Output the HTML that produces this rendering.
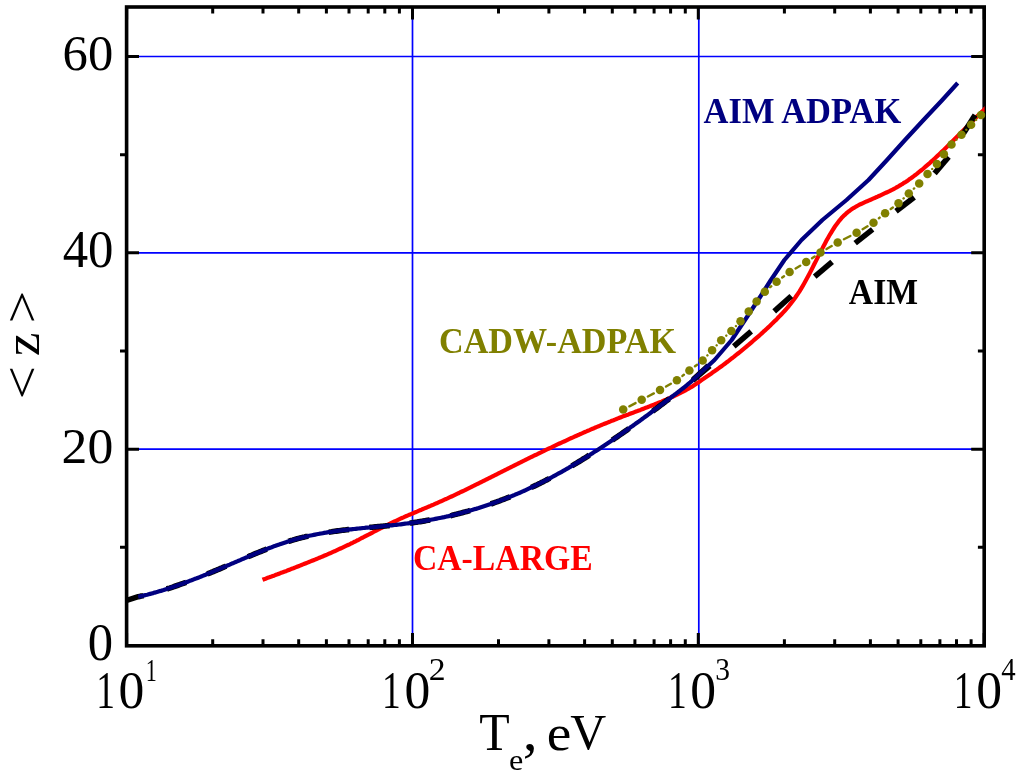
<!DOCTYPE html><html><head><meta charset="utf-8"><style>html,body{margin:0;padding:0;background:#fff;}svg{display:block;will-change:transform}</style></head><body>
<svg width="1024" height="781" viewBox="0 0 1024 781">
<rect width="1024" height="781" fill="#fff"/>
<path d="M412.5 7.0V645.5M698.8 7.0V645.5M126.6 449.2H984.2M126.6 252.8H984.2M126.6 56.5H984.2" stroke="#0000ff" stroke-width="1.7" fill="none"/>
<path d="M212.7 645.5V639.2M212.7 7.0V13.5M263.0 645.5V639.2M263.0 7.0V13.5M298.7 645.5V639.2M298.7 7.0V13.5M326.4 645.5V639.2M326.4 7.0V13.5M349.0 645.5V639.2M349.0 7.0V13.5M368.2 645.5V639.2M368.2 7.0V13.5M384.8 645.5V639.2M384.8 7.0V13.5M399.4 645.5V639.2M399.4 7.0V13.5M498.5 645.5V639.2M498.5 7.0V13.5M548.9 645.5V639.2M548.9 7.0V13.5M584.6 645.5V639.2M584.6 7.0V13.5M612.3 645.5V639.2M612.3 7.0V13.5M634.9 645.5V639.2M634.9 7.0V13.5M654.1 645.5V639.2M654.1 7.0V13.5M670.6 645.5V639.2M670.6 7.0V13.5M685.3 645.5V639.2M685.3 7.0V13.5M784.4 645.5V639.2M784.4 7.0V13.5M834.7 645.5V639.2M834.7 7.0V13.5M870.4 645.5V639.2M870.4 7.0V13.5M898.1 645.5V639.2M898.1 7.0V13.5M920.8 645.5V639.2M920.8 7.0V13.5M939.9 645.5V639.2M939.9 7.0V13.5M956.5 645.5V639.2M956.5 7.0V13.5M971.1 645.5V639.2M971.1 7.0V13.5M126.6 645.5V633.0M126.6 7.0V19.5M412.5 645.5V633.0M412.5 7.0V19.5M698.3 645.5V633.0M698.3 7.0V19.5M984.2 645.5V633.0M984.2 7.0V19.5M126.6 645.5H139.0M984.2 645.5H971.2M126.6 449.2H139.0M984.2 449.2H971.2M126.6 252.8H139.0M984.2 252.8H971.2M126.6 56.5H139.0M984.2 56.5H971.2M126.6 547.3H120.0M984.2 547.3H977.9M126.6 351.0H120.0M984.2 351.0H977.9M126.6 154.7H120.0M984.2 154.7H977.9" stroke="#000" stroke-width="3" fill="none"/>
<rect x="126.60" y="7.00" width="857.60" height="638.80" fill="none" stroke="#000" stroke-width="3.6"/>
<defs><clipPath id="pc"><rect x="126.60" y="7.00" width="858.00" height="638.50"/></clipPath></defs>
<g clip-path="url(#pc)">
<polyline points="262.5,579.8 264.0,579.2 265.5,578.7 267.0,578.1 268.5,577.6 270.0,577.0 271.5,576.5 273.0,575.9 274.5,575.4 276.0,574.8 277.5,574.3 279.0,573.7 280.5,573.1 282.0,572.6 283.5,572.0 285.0,571.4 286.5,570.9 288.0,570.3 289.5,569.7 291.0,569.1 292.5,568.6 294.0,568.0 295.5,567.4 297.0,566.8 298.5,566.2 300.0,565.6 301.5,565.0 303.0,564.4 304.5,563.8 306.0,563.2 307.5,562.6 309.0,562.0 310.5,561.4 312.0,560.8 313.5,560.2 315.0,559.6 316.5,559.0 318.0,558.4 319.5,557.7 321.0,557.1 322.5,556.5 324.0,555.8 325.5,555.2 327.0,554.6 328.5,553.9 330.0,553.3 331.5,552.6 333.0,551.9 334.5,551.3 336.0,550.6 337.5,549.9 339.0,549.2 340.5,548.5 342.0,547.8 343.5,547.1 345.0,546.4 346.5,545.7 348.0,545.0 349.5,544.3 351.0,543.5 352.5,542.8 354.0,542.0 355.5,541.3 357.0,540.5 358.5,539.8 360.0,539.0 361.5,538.2 363.0,537.5 364.5,536.7 366.0,535.9 367.5,535.1 369.0,534.4 370.5,533.6 372.0,532.8 373.5,532.0 375.0,531.2 376.5,530.5 378.0,529.7 379.5,528.9 381.0,528.2 382.5,527.4 384.0,526.6 385.5,525.9 387.0,525.1 388.5,524.4 390.0,523.7 391.5,522.9 393.0,522.2 394.5,521.5 396.0,520.8 397.5,520.1 399.0,519.4 400.5,518.7 402.0,518.0 403.5,517.4 405.0,516.7 406.5,516.0 408.0,515.4 409.5,514.7 411.0,514.1 412.5,513.5 414.0,512.8 415.5,512.2 417.0,511.6 418.5,510.9 420.0,510.3 421.5,509.7 423.0,509.0 424.5,508.4 426.0,507.8 427.5,507.1 429.0,506.5 430.5,505.9 432.0,505.2 433.5,504.6 435.0,503.9 436.5,503.3 438.0,502.6 439.5,501.9 441.0,501.3 442.5,500.6 444.0,499.9 445.5,499.2 447.0,498.6 448.5,497.9 450.0,497.2 451.5,496.5 453.0,495.8 454.5,495.1 456.0,494.4 457.5,493.7 459.0,493.0 460.5,492.2 462.0,491.5 463.5,490.8 465.0,490.1 466.5,489.3 468.0,488.6 469.5,487.9 471.0,487.2 472.5,486.4 474.0,485.7 475.5,484.9 477.0,484.2 478.5,483.5 480.0,482.7 481.5,482.0 483.0,481.2 484.5,480.5 486.0,479.7 487.5,479.0 489.0,478.2 490.5,477.5 492.0,476.7 493.5,476.0 495.0,475.2 496.5,474.5 498.0,473.7 499.5,472.9 501.0,472.2 502.5,471.4 504.0,470.7 505.5,469.9 507.0,469.2 508.5,468.4 510.0,467.7 511.5,466.9 513.0,466.2 514.5,465.4 516.0,464.6 517.5,463.9 519.0,463.1 520.5,462.4 522.0,461.6 523.5,460.9 525.0,460.2 526.5,459.4 528.0,458.7 529.5,457.9 531.0,457.2 532.5,456.5 534.0,455.7 535.5,455.0 537.0,454.3 538.5,453.5 540.0,452.8 541.5,452.1 543.0,451.4 544.5,450.6 546.0,449.9 547.5,449.2 549.0,448.5 550.5,447.8 552.0,447.1 553.5,446.3 555.0,445.6 556.5,444.9 558.0,444.2 559.5,443.5 561.0,442.8 562.5,442.1 564.0,441.5 565.5,440.8 567.0,440.1 568.5,439.4 570.0,438.7 571.5,438.0 573.0,437.4 574.5,436.7 576.0,436.0 577.5,435.3 579.0,434.7 580.5,434.0 582.0,433.4 583.5,432.7 585.0,432.0 586.5,431.4 588.0,430.7 589.5,430.1 591.0,429.4 592.5,428.8 594.0,428.2 595.5,427.5 597.0,426.9 598.5,426.3 600.0,425.6 601.5,425.0 603.0,424.4 604.5,423.8 606.0,423.2 607.5,422.6 609.0,422.0 610.5,421.4 612.0,420.7 613.5,420.2 615.0,419.6 616.5,419.0 618.0,418.4 619.5,417.8 621.0,417.2 622.5,416.6 624.0,416.1 625.5,415.5 627.0,414.9 628.5,414.4 630.0,413.8 631.5,413.2 633.0,412.7 634.5,412.1 636.0,411.5 637.5,411.0 639.0,410.4 640.5,409.9 642.0,409.3 643.5,408.7 645.0,408.1 646.5,407.6 648.0,407.0 649.5,406.4 651.0,405.8 652.5,405.2 654.0,404.6 655.5,404.0 657.0,403.4 658.5,402.8 660.0,402.2 661.5,401.6 663.0,400.9 664.5,400.3 666.0,399.7 667.5,399.0 669.0,398.3 670.5,397.7 672.0,397.0 673.5,396.3 675.0,395.6 676.5,394.9 678.0,394.1 679.5,393.4 681.0,392.6 682.5,391.9 684.0,391.1 685.5,390.3 687.0,389.5 688.5,388.7 690.0,387.8 691.5,386.9 693.0,385.9 694.5,384.9 696.0,384.0 697.5,382.9 699.0,381.9 700.5,380.9 702.0,379.8 703.5,378.8 705.0,377.7 706.5,376.7 708.0,375.7 709.5,374.7 711.0,373.7 712.5,372.6 714.0,371.6 715.5,370.5 717.0,369.5 718.5,368.4 720.0,367.3 721.5,366.2 723.0,365.1 724.5,364.0 726.0,362.8 727.5,361.7 729.0,360.6 730.5,359.4 732.0,358.2 733.5,357.1 735.0,355.9 736.5,354.7 738.0,353.5 739.5,352.3 741.0,351.1 742.5,349.8 744.0,348.6 745.5,347.4 747.0,346.1 748.5,344.9 750.0,343.6 751.5,342.3 753.0,341.0 754.5,339.7 756.0,338.4 757.5,337.1 759.0,335.8 760.5,334.5 762.0,333.1 763.5,331.7 765.0,330.4 766.5,329.0 768.0,327.6 769.5,326.2 771.0,324.7 772.5,323.3 774.0,321.8 775.5,320.4 777.0,318.9 778.5,317.3 780.0,315.8 781.5,314.2 783.0,312.6 784.5,311.0 786.0,309.3 787.5,307.6 789.0,305.8 790.5,303.9 792.0,302.0 793.5,300.0 795.0,298.0 796.5,295.8 798.0,293.6 799.5,291.3 801.0,288.8 802.5,286.3 804.0,283.7 805.5,281.0 807.0,278.3 808.5,275.5 810.0,272.6 811.5,269.7 813.0,266.8 814.5,263.8 816.0,260.9 817.5,257.9 819.0,254.9 820.5,252.0 822.0,249.1 823.5,246.2 825.0,243.4 826.5,240.6 828.0,237.9 829.5,235.3 831.0,232.8 832.5,230.3 834.0,228.0 835.5,225.7 837.0,223.7 838.5,221.7 840.0,219.9 841.5,218.1 843.0,216.6 844.5,215.1 846.0,213.7 847.5,212.4 849.0,211.2 850.5,210.1 852.0,209.1 853.5,208.1 855.0,207.2 856.5,206.3 858.0,205.5 859.5,204.7 861.0,204.0 862.5,203.3 864.0,202.6 865.5,201.9 867.0,201.3 868.5,200.6 870.0,200.0 871.5,199.3 873.0,198.6 874.5,198.0 876.0,197.3 877.5,196.7 879.0,196.0 880.5,195.3 882.0,194.6 883.5,193.9 885.0,193.2 886.5,192.5 888.0,191.8 889.5,191.1 891.0,190.3 892.5,189.6 894.0,188.8 895.5,188.0 897.0,187.1 898.5,186.3 900.0,185.4 901.5,184.5 903.0,183.6 904.5,182.6 906.0,181.7 907.5,180.7 909.0,179.6 910.5,178.6 912.0,177.5 913.5,176.4 915.0,175.2 916.5,174.1 918.0,172.9 919.5,171.7 921.0,170.5 922.5,169.3 924.0,168.0 925.5,166.7 927.0,165.4 928.5,164.1 930.0,162.8 931.5,161.4 933.0,160.1 934.5,158.7 936.0,157.3 937.5,155.9 939.0,154.5 940.5,153.1 942.0,151.6 943.5,150.2 945.0,148.7 946.5,147.3 948.0,145.8 949.5,144.3 951.0,142.8 952.5,141.3 954.0,139.8 955.5,138.3 957.0,136.8 958.5,135.3 960.0,133.8 961.5,132.3 963.0,130.7 964.5,129.2 966.0,127.7 967.5,126.2 969.0,124.7 970.5,123.2 972.0,121.6 973.5,120.1 975.0,118.6 976.5,117.1 978.0,115.6 979.5,114.2 981.0,112.7 982.5,111.2 984.0,109.8 985.5,108.3 987.0,106.9 987.5,106.4" fill="none" stroke="#ff0000" stroke-width="4.2" stroke-linejoin="round"/>
<polyline points="126.6,600.4 138.2,596.7 139.7,596.4 141.2,596.1 142.7,595.8 143.4,595.6" fill="none" stroke="#000" stroke-width="5.6" stroke-linejoin="round"/>
<polyline points="166.8,589.0 168.2,588.5 169.7,588.1 171.2,587.6 172.7,587.1 174.2,586.5 175.7,586.0 177.2,585.5 178.7,585.0 180.2,584.4 181.7,583.9 183.2,583.4 184.7,582.8 186.2,582.3" fill="none" stroke="#000" stroke-width="5.6" stroke-linejoin="round"/>
<polyline points="207.3,574.0 208.7,573.4 210.2,572.8 211.7,572.2 213.2,571.6 214.7,570.9 216.2,570.3 217.7,569.7 219.2,569.1 220.7,568.4 222.2,567.8 223.7,567.1 225.2,566.5 226.2,566.1" fill="none" stroke="#000" stroke-width="5.6" stroke-linejoin="round"/>
<polyline points="247.8,556.8 249.2,556.2 250.7,555.6 252.2,555.0 253.7,554.3 255.2,553.7 256.7,553.1 258.2,552.5 259.7,551.9 261.2,551.3 262.7,550.7 264.2,550.1 265.7,549.5 266.8,549.1" fill="none" stroke="#000" stroke-width="5.6" stroke-linejoin="round"/>
<polyline points="288.3,541.4 289.7,541.0 291.2,540.5 292.7,540.1 294.2,539.6 295.7,539.2 297.2,538.8 298.7,538.4 300.2,538.0 301.7,537.6 303.2,537.2 304.7,536.9 306.2,536.5 307.7,536.2 308.1,536.1" fill="none" stroke="#000" stroke-width="5.6" stroke-linejoin="round"/>
<polyline points="328.8,532.2 330.2,532.0 331.7,531.8 333.2,531.5 334.7,531.3 336.2,531.1 337.7,530.9 339.2,530.7 340.7,530.5 342.2,530.3 343.7,530.1 345.2,530.0 346.7,529.8 348.2,529.6 349.1,529.5" fill="none" stroke="#000" stroke-width="5.6" stroke-linejoin="round"/>
<polyline points="369.3,527.5 370.7,527.3 372.2,527.2 373.7,527.0 375.2,526.9 376.7,526.8 378.2,526.6 379.7,526.5 381.2,526.3 382.7,526.2 384.2,526.0 385.7,525.9 387.2,525.7 388.7,525.6 389.7,525.5" fill="none" stroke="#000" stroke-width="5.6" stroke-linejoin="round"/>
<polyline points="409.8,523.1 411.2,522.9 412.7,522.7 414.2,522.5 415.7,522.3 417.2,522.1 418.7,521.8 420.2,521.6 421.7,521.4 423.2,521.1 424.7,520.9 426.2,520.6 427.7,520.3 429.2,520.1 430.0,519.9" fill="none" stroke="#000" stroke-width="5.6" stroke-linejoin="round"/>
<polyline points="450.3,515.7 451.7,515.4 453.2,515.0 454.7,514.6 456.2,514.3 457.7,513.9 459.2,513.5 460.7,513.1 462.2,512.7 463.7,512.3 465.2,511.9 466.7,511.5 468.2,511.1 469.7,510.6 470.1,510.5" fill="none" stroke="#000" stroke-width="5.6" stroke-linejoin="round"/>
<polyline points="490.8,504.0 492.2,503.5 493.7,503.0 495.2,502.4 496.7,501.9 498.2,501.3 499.7,500.8 501.2,500.2 502.7,499.7 504.2,499.1 505.7,498.5 507.2,497.9 508.7,497.3 510.0,496.8" fill="none" stroke="#000" stroke-width="5.6" stroke-linejoin="round"/>
<polyline points="531.3,487.5 532.7,486.8 534.2,486.1 535.7,485.4 537.2,484.7 538.7,483.9 540.2,483.2 541.7,482.4 543.2,481.7 544.7,480.9 546.2,480.1 547.7,479.4 549.2,478.6 549.6,478.3" fill="none" stroke="#000" stroke-width="5.6" stroke-linejoin="round"/>
<polyline points="571.8,465.9 573.2,465.1 574.7,464.2 576.2,463.3 577.7,462.4 579.2,461.5 580.7,460.6 582.2,459.7 583.7,458.7 585.2,457.8 586.7,456.9 588.2,455.9 589.3,455.2" fill="none" stroke="#000" stroke-width="5.6" stroke-linejoin="round"/>
<polyline points="612.3,440.1 613.7,439.2 615.2,438.1 616.7,437.1 618.2,436.1 619.7,435.0 621.2,434.0 622.7,432.9 624.2,431.9 625.7,430.8 627.2,429.8 628.7,428.7 629.1,428.4" fill="none" stroke="#000" stroke-width="5.6" stroke-linejoin="round"/>
<polyline points="652.8,411.2 654.2,410.1 655.7,409.0 657.2,407.9 658.7,406.8 660.2,405.6 661.7,404.5 663.2,403.4 664.7,402.2 666.2,401.1 667.7,400.0 669.2,398.8" fill="none" stroke="#000" stroke-width="5.6" stroke-linejoin="round"/>
<polyline points="693.3,379.5 708.4,365.6" fill="none" stroke="#000" stroke-width="5.6" stroke-linejoin="round"/>
<polyline points="692.6,380.3 709.8,365.9" fill="none" stroke="#000" stroke-width="5.6" stroke-linejoin="round"/>
<polyline points="733.8,346.3 751.2,331.4" fill="none" stroke="#000" stroke-width="5.6" stroke-linejoin="round"/>
<polyline points="774.2,311.3 791.3,296.0" fill="none" stroke="#000" stroke-width="5.6" stroke-linejoin="round"/>
<polyline points="814.7,276.6 832.1,261.8" fill="none" stroke="#000" stroke-width="5.6" stroke-linejoin="round"/>
<polyline points="855.2,243.1 872.6,229.4" fill="none" stroke="#000" stroke-width="5.6" stroke-linejoin="round"/>
<polyline points="896.0,211.2 914.2,197.2" fill="none" stroke="#000" stroke-width="5.6" stroke-linejoin="round"/>
<polyline points="934.6,173.4 948.6,156.9" fill="none" stroke="#000" stroke-width="5.6" stroke-linejoin="round"/>
<polyline points="963.4,133.4 975.1,114.9" fill="none" stroke="#000" stroke-width="5.6" stroke-linejoin="round"/>
<polyline points="138.2,596.7 139.7,596.4 141.2,596.1 142.7,595.8 144.2,595.4 145.7,595.0 147.2,594.7 148.7,594.3 150.2,593.9 151.7,593.5 153.2,593.1 154.7,592.6 156.2,592.2 157.7,591.8 159.2,591.3 160.7,590.9 162.2,590.4 163.7,590.0 165.2,589.5 166.7,589.0 168.2,588.5 169.7,588.1 171.2,587.6 172.7,587.1 174.2,586.5 175.7,586.0 177.2,585.5 178.7,585.0 180.2,584.4 181.7,583.9 183.2,583.4 184.7,582.8 186.2,582.3 187.7,581.7 189.2,581.1 190.7,580.6 192.2,580.0 193.7,579.4 195.2,578.8 196.7,578.3 198.2,577.7 199.7,577.1 201.2,576.5 202.7,575.9 204.2,575.3 205.7,574.7 207.2,574.0 208.7,573.4 210.2,572.8 211.7,572.2 213.2,571.6 214.7,570.9 216.2,570.3 217.7,569.7 219.2,569.1 220.7,568.4 222.2,567.8 223.7,567.1 225.2,566.5 226.7,565.9 228.2,565.2 229.7,564.6 231.2,563.9 232.7,563.3 234.2,562.6 235.7,562.0 237.2,561.4 238.7,560.7 240.2,560.1 241.7,559.4 243.2,558.8 244.7,558.1 246.2,557.5 247.7,556.9 249.2,556.2 250.7,555.6 252.2,555.0 253.7,554.3 255.2,553.7 256.7,553.1 258.2,552.5 259.7,551.9 261.2,551.3 262.7,550.7 264.2,550.1 265.7,549.5 267.2,548.9 268.7,548.3 270.2,547.7 271.7,547.2 273.2,546.6 274.7,546.1 276.2,545.5 277.7,545.0 279.2,544.5 280.7,543.9 282.2,543.4 283.7,542.9 285.2,542.4 286.7,541.9 288.2,541.5 289.7,541.0 291.2,540.5 292.7,540.1 294.2,539.6 295.7,539.2 297.2,538.8 298.7,538.4 300.2,538.0 301.7,537.6 303.2,537.2 304.7,536.9 306.2,536.5 307.7,536.2 309.2,535.8 310.7,535.5 312.2,535.2 313.7,534.9 315.2,534.6 316.7,534.3 318.2,534.0 319.7,533.7 321.2,533.5 322.7,533.2 324.2,532.9 325.7,532.7 327.2,532.4 328.7,532.2 330.2,532.0 331.7,531.8 333.2,531.5 334.7,531.3 336.2,531.1 337.7,530.9 339.2,530.7 340.7,530.5 342.2,530.3 343.7,530.1 345.2,530.0 346.7,529.8 348.2,529.6 349.7,529.4 351.2,529.3 352.7,529.1 354.2,529.0 355.7,528.8 357.2,528.6 358.7,528.5 360.2,528.3 361.7,528.2 363.2,528.0 364.7,527.9 366.2,527.7 367.7,527.6 369.2,527.5 370.7,527.3 372.2,527.2 373.7,527.0 375.2,526.9 376.7,526.8 378.2,526.6 379.7,526.5 381.2,526.3 382.7,526.2 384.2,526.0 385.7,525.9 387.2,525.7 388.7,525.6 390.2,525.4 391.7,525.3 393.2,525.1 394.7,525.0 396.2,524.8 397.7,524.6 399.2,524.5 400.7,524.3 402.2,524.1 403.7,523.9 405.2,523.7 406.7,523.5 408.2,523.3 409.7,523.1 411.2,522.9 412.7,522.7 414.2,522.5 415.7,522.3 417.2,522.1 418.7,521.8 420.2,521.6 421.7,521.4 423.2,521.1 424.7,520.9 426.2,520.6 427.7,520.3 429.2,520.1 430.7,519.8 432.2,519.5 433.7,519.2 435.2,518.9 436.7,518.6 438.2,518.3 439.7,518.0 441.2,517.7 442.7,517.4 444.2,517.1 445.7,516.7 447.2,516.4 448.7,516.1 450.2,515.7 451.7,515.4 453.2,515.0 454.7,514.6 456.2,514.3 457.7,513.9 459.2,513.5 460.7,513.1 462.2,512.7 463.7,512.3 465.2,511.9 466.7,511.5 468.2,511.1 469.7,510.6 471.2,510.2 472.7,509.8 474.2,509.3 475.7,508.9 477.2,508.4 478.7,508.0 480.2,507.5 481.7,507.0 483.2,506.5 484.7,506.0 486.2,505.5 487.7,505.0 489.2,504.5 490.7,504.0 492.2,503.5 493.7,503.0 495.2,502.4 496.7,501.9 498.2,501.3 499.7,500.8 501.2,500.2 502.7,499.7 504.2,499.1 505.7,498.5 507.2,497.9 508.7,497.3 510.2,496.7 511.7,496.1 513.2,495.5 514.7,494.9 516.2,494.2 517.7,493.6 519.2,493.0 520.7,492.3 522.2,491.6 523.7,491.0 525.2,490.3 526.7,489.6 528.2,488.9 529.7,488.2 531.2,487.5 532.7,486.8 534.2,486.1 535.7,485.4 537.2,484.7 538.7,483.9 540.2,483.2 541.7,482.4 543.2,481.7 544.7,480.9 546.2,480.1 547.7,479.4 549.2,478.6 550.7,477.8 552.2,477.0 553.7,476.2 555.2,475.4 556.7,474.5 558.2,473.7 559.7,472.9 561.2,472.1 562.7,471.2 564.2,470.4 565.7,469.5 567.2,468.6 568.7,467.8 570.2,466.9 571.7,466.0 573.2,465.1 574.7,464.2 576.2,463.3 577.7,462.4 579.2,461.5 580.7,460.6 582.2,459.7 583.7,458.7 585.2,457.8 586.7,456.9 588.2,455.9 589.7,455.0 591.2,454.0 592.7,453.1 594.2,452.1 595.7,451.1 597.2,450.2 598.7,449.2 600.2,448.2 601.7,447.2 603.2,446.2 604.7,445.2 606.2,444.2 607.7,443.2 609.2,442.2 610.7,441.2 612.2,440.2 613.7,439.2 615.2,438.1 616.7,437.1 618.2,436.1 619.7,435.0 621.2,434.0 622.7,432.9 624.2,431.9 625.7,430.8 627.2,429.8 628.7,428.7 630.2,427.6 631.7,426.6 633.2,425.5 634.7,424.4 636.2,423.3 637.7,422.2 639.2,421.2 640.7,420.1 642.2,419.0 643.7,417.9 645.2,416.8 646.7,415.7 648.2,414.6 649.7,413.5 651.2,412.3 652.7,411.2 654.2,410.1 655.7,409.0 657.2,407.9 658.7,406.8 660.2,405.6 661.7,404.5 663.2,403.4 664.7,402.2 666.2,401.1 667.7,400.0 669.2,398.8 670.7,397.7 672.2,396.5 673.7,395.4 675.2,394.3 676.7,393.1 678.2,392.0 679.7,390.8 681.2,389.6 682.7,388.5 684.2,387.3 685.7,386.1 687.2,384.9 688.7,383.6 690.2,382.4 691.7,381.1 692.5,380.3 714.5,360.0 731.7,340.0 745.0,320.0 760.4,296.5 770.9,280.0 784.4,260.0 801.5,240.0 822.4,220.0 846.5,200.0 868.5,180.0 887.0,160.0 905.0,140.0 923.5,120.0 942.3,100.0 957.7,83.0" fill="none" stroke="#000080" stroke-width="4.2" stroke-linejoin="round"/>
</g>
<path d="M629.39 406.32L635.51 403.08M647.88 396.52L653.82 393.38M666.04 386.56L670.86 383.74M682.43 375.91L683.87 374.79M694.99 366.29L697.11 364.71M707.39 355.41L707.41 355.39M716.64 345.31L716.66 345.29M726.29 335.61L726.31 335.59M735.94 326.06L735.96 326.04M770.14 287.17L771.26 286.23M782.21 277.51L783.99 276.19M795.61 268.41L800.19 265.69M812.03 258.23L814.67 256.47M826.54 249.06L831.66 246.04M843.93 239.30L850.37 236.00M862.61 229.21L867.49 226.29M878.92 218.26L879.68 217.64M890.73 209.04L892.87 207.46M903.57 198.47L903.73 198.33M913.87 188.67L914.13 188.43M932.19 169.01L932.21 168.99M956.49 139.66L956.51 139.64M966.29 129.76L966.31 129.74M976.04 119.91L976.06 119.89" stroke="#808000" stroke-width="2.4" stroke-linecap="round" fill="none"/>
<circle cx="623.2" cy="409.6" r="4.25" fill="#808000"/>
<circle cx="641.7" cy="399.8" r="4.25" fill="#808000"/>
<circle cx="660.0" cy="390.1" r="4.25" fill="#808000"/>
<circle cx="676.9" cy="380.2" r="4.25" fill="#808000"/>
<circle cx="689.4" cy="370.5" r="4.25" fill="#808000"/>
<circle cx="702.7" cy="360.5" r="4.25" fill="#808000"/>
<circle cx="712.1" cy="350.3" r="4.25" fill="#808000"/>
<circle cx="721.2" cy="340.3" r="4.25" fill="#808000"/>
<circle cx="731.4" cy="330.9" r="4.25" fill="#808000"/>
<circle cx="740.5" cy="321.2" r="4.25" fill="#808000"/>
<circle cx="748.7" cy="311.4" r="4.25" fill="#808000"/>
<circle cx="756.6" cy="301.4" r="4.25" fill="#808000"/>
<circle cx="764.8" cy="291.7" r="4.25" fill="#808000"/>
<circle cx="776.6" cy="281.7" r="4.25" fill="#808000"/>
<circle cx="789.6" cy="272.0" r="4.25" fill="#808000"/>
<circle cx="806.2" cy="262.1" r="4.25" fill="#808000"/>
<circle cx="820.5" cy="252.6" r="4.25" fill="#808000"/>
<circle cx="837.7" cy="242.5" r="4.25" fill="#808000"/>
<circle cx="856.6" cy="232.8" r="4.25" fill="#808000"/>
<circle cx="873.5" cy="222.7" r="4.25" fill="#808000"/>
<circle cx="885.1" cy="213.2" r="4.25" fill="#808000"/>
<circle cx="898.5" cy="203.3" r="4.25" fill="#808000"/>
<circle cx="908.8" cy="193.5" r="4.25" fill="#808000"/>
<circle cx="919.2" cy="183.6" r="4.25" fill="#808000"/>
<circle cx="927.5" cy="174.0" r="4.25" fill="#808000"/>
<circle cx="936.9" cy="164.0" r="4.25" fill="#808000"/>
<circle cx="943.9" cy="154.3" r="4.25" fill="#808000"/>
<circle cx="951.5" cy="144.5" r="4.25" fill="#808000"/>
<circle cx="961.5" cy="134.8" r="4.25" fill="#808000"/>
<circle cx="971.1" cy="124.7" r="4.25" fill="#808000"/>
<circle cx="981.0" cy="115.1" r="4.25" fill="#808000"/>
<text transform="translate(87.77,659.88) scale(0.9696,1)" font-family="Liberation Serif, serif" font-size="52.30" fill="#000">0</text>
<text transform="translate(61.52,463.29) scale(1.0065,1)" font-family="Liberation Serif, serif" font-size="51.41" fill="#000">20</text>
<text transform="translate(62.63,267.18) scale(0.9686,1)" font-family="Liberation Serif, serif" font-size="52.44" fill="#000">40</text>
<text transform="translate(62.62,70.09) scale(0.9843,1)" font-family="Liberation Serif, serif" font-size="51.41" fill="#000">60</text>
<text transform="translate(96.20,708.10) scale(0.7092,1)" font-family="Liberation Serif, serif" font-size="52.88" fill="#000">1</text>
<text transform="translate(118.54,707.58) scale(0.9905,1)" font-family="Liberation Serif, serif" font-size="52.15" fill="#000">0</text>
<text transform="translate(145.65,680.80) scale(0.6802,1)" font-family="Liberation Serif, serif" font-size="32.58" fill="#000">1</text>
<text transform="translate(382.07,708.10) scale(0.7092,1)" font-family="Liberation Serif, serif" font-size="52.88" fill="#000">1</text>
<text transform="translate(404.40,707.58) scale(0.9905,1)" font-family="Liberation Serif, serif" font-size="52.15" fill="#000">0</text>
<text transform="translate(428.72,680.00) scale(1.0613,1)" font-family="Liberation Serif, serif" font-size="31.72" fill="#000">2</text>
<text transform="translate(667.93,708.10) scale(0.7092,1)" font-family="Liberation Serif, serif" font-size="52.88" fill="#000">1</text>
<text transform="translate(690.27,707.58) scale(0.9905,1)" font-family="Liberation Serif, serif" font-size="52.15" fill="#000">0</text>
<text transform="translate(715.18,679.69) scale(0.9453,1)" font-family="Liberation Serif, serif" font-size="31.25" fill="#000">3</text>
<text transform="translate(953.80,708.10) scale(0.7092,1)" font-family="Liberation Serif, serif" font-size="52.88" fill="#000">1</text>
<text transform="translate(976.14,707.58) scale(0.9905,1)" font-family="Liberation Serif, serif" font-size="52.15" fill="#000">0</text>
<text transform="translate(1001.25,680.00) scale(0.9029,1)" font-family="Liberation Serif, serif" font-size="31.91" fill="#000">4</text>
<text transform="translate(479.30,750.10) scale(0.9543,1)" font-family="Liberation Serif, serif" font-size="52.21" fill="#000">T</text>
<text transform="translate(509.05,770.12) scale(1.1292,1)" font-family="Liberation Serif, serif" font-size="28.48" fill="#000">e</text>
<text transform="translate(522.63,749.85) scale(1.0514,1)" font-family="Liberation Serif, serif" font-size="56.81" fill="#000">,</text>
<text transform="translate(546.64,749.59) scale(1.0833,1)" font-family="Liberation Serif, serif" font-size="51.14" fill="#000">e</text>
<text transform="translate(570.15,749.33) scale(0.9767,1)" font-family="Liberation Serif, serif" font-size="51.04" fill="#000">V</text>
<text transform="rotate(-90) translate(-399.38,38.53) scale(1.1696,1)" font-family="Liberation Serif, serif" font-size="50.93">&lt;</text>
<text transform="rotate(-90) translate(-356.34,38.50) scale(1.0394,1)" font-family="Liberation Serif, serif" font-size="51.20">z</text>
<text transform="rotate(-90) translate(-323.57,38.53) scale(1.1443,1)" font-family="Liberation Serif, serif" font-size="50.93">&gt;</text>
<text transform="translate(703.55,122.63) scale(0.9892,1)" font-family="Liberation Serif, serif" font-size="34.89" font-weight="bold" fill="#000080">AIM ADPAK</text>
<text transform="translate(439.03,352.97) scale(0.9670,1)" font-family="Liberation Serif, serif" font-size="35.30" font-weight="bold" fill="#808000">CADW-ADPAK</text>
<text transform="translate(848.86,303.80) scale(0.9554,1)" font-family="Liberation Serif, serif" font-size="35.30" font-weight="bold" fill="#000">AIM</text>
<text transform="translate(412.95,569.84) scale(0.9244,1)" font-family="Liberation Serif, serif" font-size="36.46" font-weight="bold" fill="#ff0000">CA-LARGE</text>
</svg></body></html>
